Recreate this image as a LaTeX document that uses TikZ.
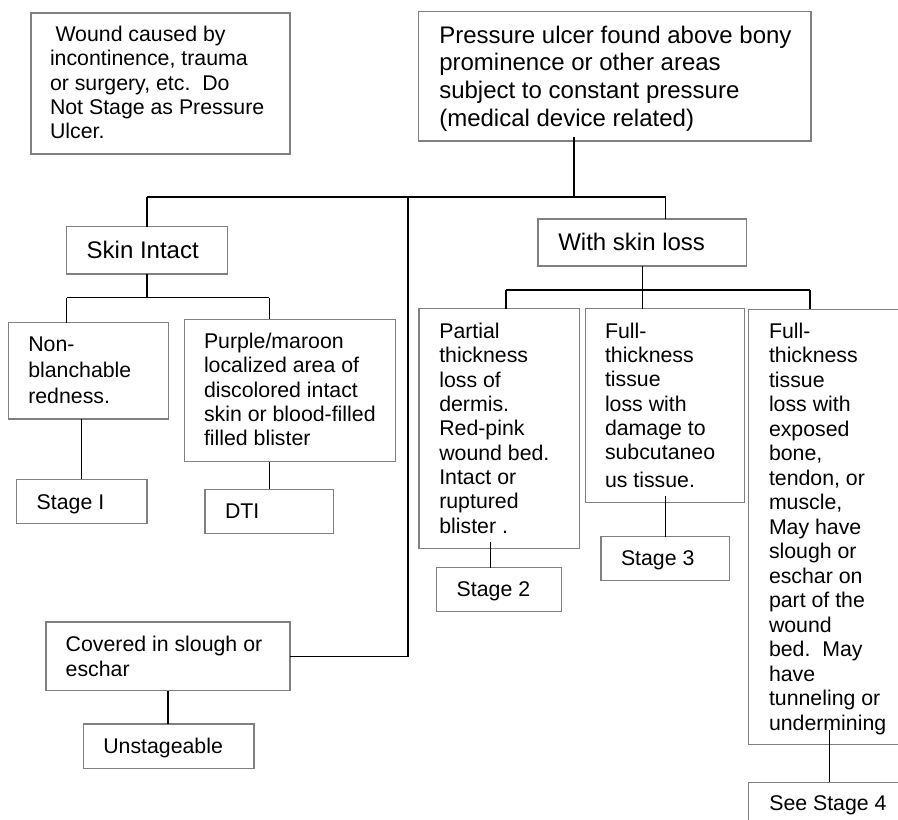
\documentclass[tikz,border=0pt]{standalone}
\usepackage{fontspec}
\setmainfont{Liberation Sans}
\usetikzlibrary{fit}
\definecolor{boxgray}{RGB}{128,128,128}
\newcommand{\TS}[2][24.35]{\parbox[t]{320pt}{\fontsize{21.3}{#1}\selectfont\raggedright #2}}
\newcommand{\TL}[2][27.6]{\parbox[t]{400pt}{\fontsize{24}{#1}\selectfont\raggedright #2}}
\tikzset{
  boxed/.style={draw=boxgray, line width=1.3pt, inner sep=0pt, outer sep=0pt},
  txt/.style={anchor=base west, inner sep=0pt, outer sep=0pt, text=black},
  link/.style={draw=black, line width=1.3pt},
}
\begin{document}
\begin{tikzpicture}[x=1pt, y=-1pt]
\clip (0,0) rectangle (898,820);
\fill[white] (0,0) rectangle (898,820);

% boxes
\node[boxed, fit={(31,13) (290,154)}] (wound) {};
\node[boxed, fit={(418.7,11.7) (811,141)}] (top) {};
\node[boxed, fit={(66.7,226.7) (227.3,274)}] (skin) {};
\node[boxed, fit={(538,219) (746.7,266)}] (loss) {};
\node[boxed, fit={(8.3,322.7) (168.7,419)}] (nonb) {};
\node[boxed, fit={(184.3,319.3) (395.7,461.7)}] (purp) {};
\node[boxed, fit={(16.3,479.3) (147,523.7)}] (st1) {};
\node[boxed, fit={(205,489.3) (333.3,533.3)}] (dti) {};
\node[boxed, fit={(419,308.7) (579.3,548.7)}] (part) {};
\node[boxed, fit={(585.3,308.7) (744.5,502.7)}] (full1) {};
\node[boxed, fit={(748.6,309.3) (930,744.3)}] (full2) {};
\node[boxed, fit={(436.7,567.7) (561.7,611.7)}] (st2) {};
\node[boxed, fit={(601,536.7) (729.7,580.7)}] (st3) {};
\node[boxed, fit={(748.6,782.3) (930,850)}] (st4) {};
\node[boxed, fit={(46,622) (290,690.7)}] (cov) {};
\node[boxed, fit={(83.3,724) (254,768.7)}] (unst) {};

% texts
\node[txt] (wound-t) at (50,41.7) {\TS[24.2]{\hspace*{5.5pt}Wound caused by\\incontinence, trauma\\or surgery, etc.\ \ Do\\Not Stage as Pressure\\Ulcer.}};
\node[txt] (top-t) at (439.3,43.3) {\TL{Pressure ulcer found above bony\\prominence or other areas\\subject to constant pressure\\(medical device related)}};
\node[txt] (skin-t) at (86.7,258) {\TL{Skin Intact}};
\node[txt] (loss-t) at (558.3,250) {\TL{With skin loss}};
\node[txt] (nonb-t) at (28.3,351.7) {\TS[25.8]{Non-\\blanchable\\redness.}};
\node[txt] (purp-t) at (204,348.3) {\TS{Purple/maroon\\localized area of\\discolored intact\\skin or blood-filled\\filled blister}};
\node[txt] (st1-t) at (36.7,509.3) {\TS{Stage I}};
\node[txt] (dti-t) at (225,518.3) {\TS{DTI}};
\node[txt] (part-t) at (439.3,338.3) {\TS[24.375]{Partial\\thickness\\loss of\\dermis.\\Red-pink\\wound bed.\\Intact or\\ruptured\\blister .}};
\node[txt] (full1-t) at (605,338.3) {\TS[24.3]{Full-\\thickness\\tissue\\loss with\\damage to\\subcutaneo\\[3pt]us tissue.}};
\node[txt] (full2-t) at (769,338.3) {\TS[24.5]{Full-\\thickness\\tissue\\loss with\\exposed\\bone,\\tendon, or\\muscle,\\May have\\slough or\\eschar on\\part of the\\wound\\bed.\ \ May\\have\\tunneling or\\undermining}};
\node[txt] (st2-t) at (456.7,596.7) {\TS{Stage 2}};
\node[txt] (st3-t) at (621,565) {\TS{Stage 3}};
\node[txt] (st4-t) at (769.3,810.7) {\TS{See Stage 4}};
\node[txt] (cov-t) at (65.7,651.7) {\TS[25]{Covered in slough or\\eschar}};
\node[txt] (unst-t) at (103.3,753.3) {\TS{Unstageable}};

% junctions
\coordinate (jt) at (574,197);
\coordinate (jl) at (147,197);
\coordinate (jr) at (665.7,197);
\coordinate (jm) at (408,197);
\coordinate (sk1) at (66.7,297.5);
\coordinate (sk2) at (269.3,297.5);
\coordinate (ls1) at (506,290);
\coordinate (ls2) at (810,290);
\coordinate (p2) at (490.3,541.7);
\coordinate (p4) at (829.3,730);

% connectors
\draw[link] ([yshift=4pt]top.south -| jt) -- (jt);
\draw[link] (jl) -- (jr);
\draw[link] (jl) -- (skin.north);
\draw[link] (jr) -- (loss.north -| jr);
\draw[link] (jm) |- (cov.east);
\draw[link] (skin.south) -- (skin.south |- sk1);
\draw[link] (sk1) -- (sk2);
\draw[link] (sk1) -- (nonb.north -| sk1);
\draw[link] (sk2) -- (purp.north -| sk2);
\draw[link] (nonb.south -| st1.north) -- (st1.north);
\draw[link] (purp.south -| dti.north) -- (dti.north);
\draw[link] (loss.south) -- (loss.south |- ls1);
\draw[link] (ls1) -- (ls2);
\draw[link] (ls1) -- (part.north -| ls1);
\draw[link] (loss.south |- ls1) -- (full1.north -| loss.south);
\draw[link] (ls2) -- (full2.north -| ls2);
\draw[link] (p2) -- (p2 |- st2.north);
\draw[link] ([yshift=6.7pt]full1.south -| st3.north) -- (st3.north);
\draw[link] (p4) -- (p4 |- st4.north);
\draw[link] (cov.south) -- (unst.north -| cov.south);
\end{tikzpicture}
\end{document}
